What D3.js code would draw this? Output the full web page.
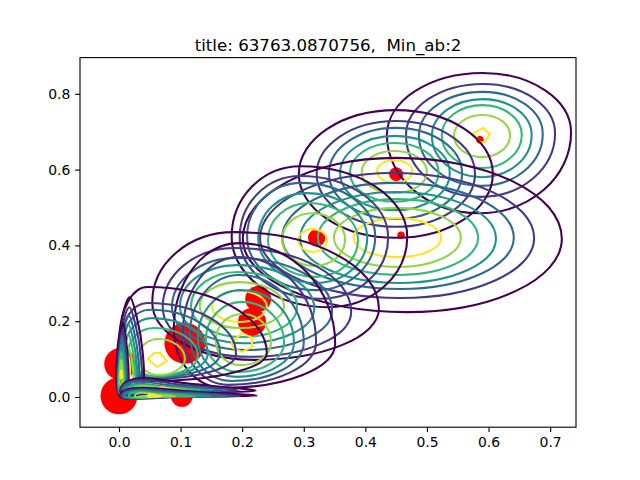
<!DOCTYPE html>
<html>
<head>
<meta charset="utf-8">
<script src="https://cdn.jsdelivr.net/npm/d3@7"></script>
<style>
    body { margin: 0; background: #fff; }
    text { font-family: "DejaVu Sans", sans-serif; fill: #000; }
</style>
</head>
<body>
<div id="chart"></div>
<script>
// Red points: x, y and size
const pointX = [0.000, 0.002, 0.102, 0.107, 0.216, 0.226, 0.321, 0.450, 0.458, 0.586];
const pointY = [0.003, 0.087, 0.003, 0.142, 0.198, 0.259, 0.420, 0.588, 0.427, 0.679];
const pointSize = [342, 256, 121, 420, 196, 169, 76, 49, 14, 14];

// One colour per contour level, low to high
const levelColors = ["#440154", "#443983", "#31688e", "#21918c", "#35b779", "#90d743", "#fde725"];
// Outer levels lean more than the inner ones
const levelLean = [1, 0.85, 0.7, 0.55, 0.4, 0.25, 0.1];

// Closed rings: [xmin, xmax, ymin, ymax] per level
const ringsA = [[.435, .734, .485, .855], [.466, .708, .528, .826], [.487, .688, .557, .805], [.508, .670, .580, .786], [.524, .654, .604, .770], [.544, .635, .633, .744]];
const ringsB = [[.292, .607, .420, .757], [.321, .578, .449, .728], [.341, .557, .470, .710], [.359, .537, .493, .689], [.375, .519, .515, .670], [.394, .500, .538, .649], [.419, .476, .565, .625]];
const ringsC = [[.201, .719, .224, .631], [.229, .674, .261, .591], [.265, .641, .285, .565], [.294, .612, .301, .541], [.323, .583, .322, .522], [.349, .555, .343, .499], [.381, .523, .369, .472]];
const ringsD = [[.183, .468, .237, .609], [.196, .437, .259, .583], [.208, .416, .282, .565], [.226, .403, .301, .538], [.242, .388, .317, .512], [.265, .367, .346, .485], [.291, .338, .383, .443]];
const ringsE = [[.054, .422, .098, .435], [.071, .377, .106, .393], [.086, .346, .124, .367], [.099, .317, .142, .348], [.117, .289, .158, .330], [.131, .268, .182, .303], [.151, .240, .198, .280]];
const ringsF = [[.089, .351, .024, .406], [.104, .320, .032, .369], [.115, .300, .042, .322], [.128, .284, .053, .282], [.141, .268, .066, .251], [.157, .247, .084, .219]];
const ringsG = [[.002, .240, .042, .290], [.003, .190, .047, .248], [.006, .164, .050, .230], [.010, .144, .053, .208], [.015, .128, .055, .182], [.032, .107, .058, .153]];

// The smallest yellow contours are coarse polygons: [x, y]
const yellowA = [[.575, .694], [.591, .710], [.602, .694], [.594, .673], [.586, .673]];
const yellowF = [[.183, .145], [.200, .169], [.216, .156], [.216, .132], [.200, .119], [.185, .129]];
const yellowG = [[.047, .100], [.057, .116], [.067, .116], [.078, .095], [.062, .079]];

// How far each ring leans: y at left, y at right, x at bottom, x at top (fraction of half size)
const leanA = [0.11, 0.15, 0.00, 0.04];
const leanB = [0.00, 0.00, 0.00, 0.00];
const leanC = [-0.05, -0.05, 0.03, -0.04];
const leanD = [0.00, 0.00, 0.10, -0.22];
const leanE = [-0.10, -0.20, -0.10, -0.28];
const leanF = [-0.19, -0.39, -0.38, -0.19];
const leanG = [-0.05, -0.40, -0.59, -0.63];

// Spikes along the y axis: [xmin, xmax, ymin, ymax]
const spikesH1 = [[.002, .039, .003, .264], [.003, .036, .005, .237], [.005, .032, .008, .214], [.006, .029, .013, .190], [.008, .026, .020, .164], [.010, .023, .032, .132], [.013, .018, .053, .106]];
const spikesH2 = [[.001, .015, .003, .195], [.001, .013, .005, .177], [.001, .011, .008, .158], [.001, .010, .013, .140], [.001, .008, .020, .119], [.002, .006, .032, .098], [.003, .005, .050, .071]];
// Spikes along the x axis: [xmin, xmax, ymin, ymax]
const spikesI1 = [[.003, .222, .013, .050], [.004, .193, .014, .045], [.006, .170, .015, .040], [.010, .151, .016, .034], [.015, .131, .017, .032], [.025, .107, .018, .029], [.065, .086, .020, .026]];
const spikesI2 = [[.002, .224, .001, .024], [.004, .197, .001, .021], [.006, .176, .001, .018], [.010, .148, .001, .016], [.016, .123, .001, .013], [.026, .091, .001, .011], [.047, .068, .001, .008]];

const xTicks = [0, 0.1, 0.2, 0.3, 0.4, 0.5, 0.6, 0.7];
const yTicks = [0, 0.2, 0.4, 0.6, 0.8];
const titleText = "title: 63763.0870756,  Min_ab:2";

const margin = { top: 57.6, right: 64, bottom: 52.8, left: 80 };
const width = 640 - margin.left - margin.right;
const height = 480 - margin.top - margin.bottom;

const svg = d3.select("#chart")
    .append("svg")
    .attr("width", 640)
    .attr("height", 480)
    .append("g")
    .attr("transform", `translate(${margin.left}, ${margin.top})`);

const xScale = d3.scaleLinear().domain([-0.0633, 0.742]).range([0, width]);
const yScale = d3.scaleLinear().domain([-0.0797, 0.8955]).range([height, 0]);
const rScale = d3.scaleSqrt().domain([0, 400]).range([0, 20]);

svg.append("clipPath").attr("id", "plot")
    .append("rect").attr("width", width).attr("height", height);

const plot = svg.append("g").attr("clip-path", "url(#plot)");

// Points
plot.selectAll(".point")
    .data(pointX.map((x, i) => ({ x, y: pointY[i], s: pointSize[i] })))
    .enter().append("circle")
    .attr("class", "point")
    .attr("cx", d => xScale(d.x))
    .attr("cy", d => yScale(d.y))
    .attr("r", d => rScale(d.s))
    .attr("fill", "red");

// Ring through its four extreme points, quarter by quarter
function ringPath(ring, lean, f) {
    const [x0, x1, y0, y1] = ring;
    const mx = (x0 + x1) / 2, my = (y0 + y1) / 2;
    const hx = (x1 - x0) / 2, hy = (y1 - y0) / 2;
    const L = [xScale(x0), yScale(my + f * lean[0] * hy)];
    const R = [xScale(x1), yScale(my + f * lean[1] * hy)];
    const B = [xScale(mx + f * lean[2] * hx), yScale(y0)];
    const T = [xScale(mx + f * lean[3] * hx), yScale(y1)];
    const k = 0.5523;
    const p = d3.path();
    p.moveTo(L[0], L[1]);
    p.bezierCurveTo(L[0], L[1] + (T[1] - L[1]) * k, T[0] + (L[0] - T[0]) * k, T[1], T[0], T[1]);
    p.bezierCurveTo(T[0] + (R[0] - T[0]) * k, T[1], R[0], R[1] + (T[1] - R[1]) * k, R[0], R[1]);
    p.bezierCurveTo(R[0], R[1] + (B[1] - R[1]) * k, B[0] + (R[0] - B[0]) * k, B[1], B[0], B[1]);
    p.bezierCurveTo(B[0] + (L[0] - B[0]) * k, B[1], L[0], L[1] + (B[1] - L[1]) * k, L[0], L[1]);
    p.closePath();
    return p.toString();
}

const closedLine = d3.line()
    .x(d => xScale(d[0]))
    .y(d => yScale(d[1]))
    .curve(d3.curveCatmullRomClosed.alpha(0.5));

const polygonLine = d3.line()
    .x(d => xScale(d[0]))
    .y(d => yScale(d[1]))
    .curve(d3.curveLinearClosed);

// Spike standing on the x axis, its tip leaning a bit to the middle
function spikeUp([x0, x1, y0, y1]) {
    const w = x1 - x0, h = y1 - y0;
    return closedLine([
        [x0, y0], [x0 + 0.7 * w, y0], [x1, y0 + 0.1 * h], [x1 - 0.02 * w, y0 + 0.45 * h],
        [x0 + 0.72 * w, y0 + 0.8 * h], [x0 + 0.42 * w, y1], [x0, y0 + 0.7 * h]
    ]);
}

// Spike lying on the x axis, pointing right
function spikeRight([x0, x1, y0, y1]) {
    const w = x1 - x0, h = y1 - y0;
    return closedLine([
        [x0, y0], [x0 + 0.02 * w, y0 + 0.6 * h], [x0 + 0.15 * w, y1], [x0 + 0.5 * w, y0 + 0.6 * h],
        [x1, y0 + 0.1 * h], [x0 + 0.5 * w, y0]
    ]);
}

function drawLevels(paths) {
    plot.append("g").selectAll("path")
        .data(paths)
        .enter().append("path")
        .attr("d", d => d)
        .attr("fill", "none")
        .attr("stroke", (d, i) => levelColors[i])
        .attr("stroke-width", 2.08);
}

// Rings, with the yellow polygon as top level where there is one
[[ringsA, leanA, yellowA], [ringsB, leanB], [ringsC, leanC], [ringsD, leanD], [ringsE, leanE], [ringsF, leanF, yellowF], [ringsG, leanG, yellowG]]
    .forEach(([rings, lean, yellow]) => {
        const paths = rings.map((r, i) => ringPath(r, lean, levelLean[i]));
        if (yellow) paths.push(polygonLine(yellow));
        drawLevels(paths);
    });
drawLevels(spikesH1.map(spikeUp));
drawLevels(spikesH2.map(spikeUp));
drawLevels(spikesI1.map(spikeRight));
drawLevels(spikesI2.map(spikeRight));

// Frame
svg.append("rect")
    .attr("width", width).attr("height", height)
    .attr("fill", "none").attr("stroke", "#000").attr("stroke-width", 1.11);

// Axes
const xAxis = svg.append("g")
    .attr("transform", `translate(0,${height})`)
    .call(d3.axisBottom(xScale).tickValues(xTicks).tickFormat(d3.format(".1f")).tickSize(4.86).tickPadding(4.86));
const yAxis = svg.append("g")
    .call(d3.axisLeft(yScale).tickValues(yTicks).tickFormat(d3.format(".1f")).tickSize(4.86).tickPadding(4.86));
[xAxis, yAxis].forEach(a => {
    a.select(".domain").remove();
    a.selectAll("line").attr("stroke", "#000").attr("stroke-width", 1.11);
    a.selectAll("text").style("font-size", "13.9px").style("font-family", "'DejaVu Sans', sans-serif");
});

// Title
svg.append("text")
    .attr("x", width / 2)
    .attr("y", -6.5)
    .attr("text-anchor", "middle")
    .style("font-size", "16.67px")
    .style("white-space", "pre")
    .text(titleText);
</script>
</body>
</html>
